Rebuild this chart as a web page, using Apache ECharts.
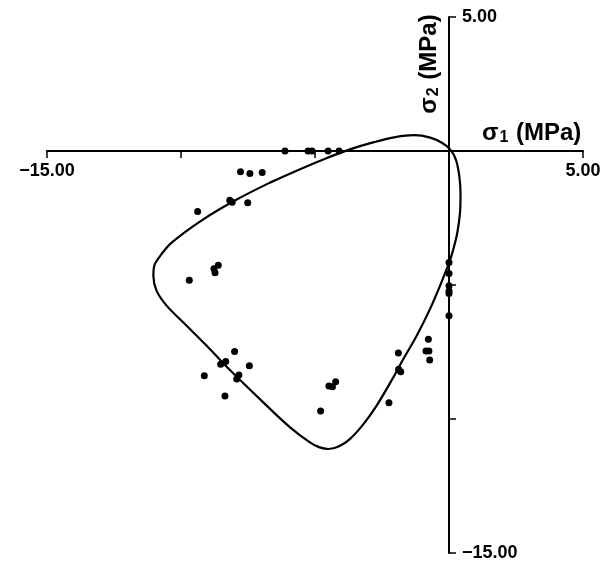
<!DOCTYPE html>
<html>
<head>
<meta charset="utf-8">
<title>Failure envelope</title>
<script src="https://cdn.jsdelivr.net/npm/echarts@6/dist/echarts.min.js"></script>
<style>
  html, body { margin: 0; padding: 0; background: #fff; }
  #chart { width: 606px; height: 563px; }
</style>
</head>
<body>
<div id="chart"></div>
<script>
// fitted envelope, sigma1 / sigma2 in MPa (closed loop)
const envelopeS1 = [
  -6.68, -5.60, -4.60, -3.70, -2.80, -2.00, -1.30, -0.70, -0.25, 0.04,
  0.25, 0.38, 0.43, 0.41, 0.31, 0.16, 0.01, -0.34, -0.71, -1.21,
  -1.71, -2.08, -2.70, -3.20, -3.69, -4.10, -4.50, -4.85, -5.19, -5.93,
  -6.93, -8.25, -9.04, -9.91, -10.53, -10.91, -11.03, -11.00, -10.78, -10.35,
  -9.17, -7.92, -6.68
]
const envelopeS2 = [
  -1.18, -0.70, -0.28, 0.06, 0.33, 0.52, 0.59, 0.50, 0.30, 0.06,
  -0.30, -0.90, -1.60, -2.30, -3.05, -3.67, -4.16, -5.04, -5.90, -6.90,
  -7.77, -8.45, -9.50, -10.20, -10.74, -11.02, -11.12, -11.05, -10.87, -10.31,
  -9.38, -8.10, -7.27, -6.40, -5.78, -5.22, -4.66, -4.29, -3.92, -3.42,
  -2.55, -1.81, -1.18
]

// test results
const testS1 = [
  -6.12, -5.26, -5.11, -4.51, -4.10,
  -6.97, -7.78, -7.43,
  -8.18, -8.09, -7.51, -9.38,
  -8.61, -8.77, -8.73, -9.69,
  -9.13, -8.36, -8.52, -8.33, -8.00, -7.45, -7.92, -7.84,
  -4.79, -4.48, -4.35, -4.23,
  -2.24, -1.89, -1.88, -1.80,
  -0.77, -0.86, -0.75, -0.72,
  0, 0, 0, 0, 0, 0
]
const testS2 = [
  0, 0, 0, 0, 0,
  -0.80, -0.77, -0.84,
  -1.84, -1.91, -1.93, -2.26,
  -4.26, -4.39, -4.54, -4.82,
  -8.39, -9.14, -7.96, -7.85, -7.48, -8.01, -8.51, -8.36,
  -9.70, -8.77, -8.80, -8.61,
  -9.39, -7.54, -8.14, -8.24,
  -7.02, -7.46, -7.46, -7.80,
  -4.16, -4.57, -5.03, -5.22, -5.32, -6.15
]

const axisMin = -15
const axisMax = 5
const tickStep = 5

const endLabel = (v) => (v === axisMin || v === axisMax) ? v.toFixed(2).replace('-', '\u2212') : ''

const chart = echarts.init(document.getElementById('chart'))

const font = '"Liberation Sans", Arial, sans-serif'
const nameRich = {
  s: { fontSize: 24, fontWeight: 'bold', fontFamily: font, color: '#000' },
  sub: { fontSize: 16, fontWeight: 'bold', fontFamily: font, color: '#000', padding: [10, 1, 0, 1] }
}

// grid: 47..583 horizontally, 17..553 vertically; axes cross at the origin
const gridLeft = 47
const gridTop = 17
const gridW = 536
const gridH = 536
const zeroX = gridW * (0 - axisMin) / (axisMax - axisMin)
const zeroY = gridH * (axisMax - 0) / (axisMax - axisMin)

chart.setOption({
  backgroundColor: '#fff',
  animation: false,
  grid: { left: gridLeft, top: gridTop, width: gridW, height: gridH, outerBoundsMode: 'none' },
  xAxis: {
    type: 'value',
    position: 'top',
    offset: -zeroY,
    min: axisMin,
    max: axisMax,
    interval: tickStep,
    axisLine: { onZero: false, lineStyle: { color: '#000', width: 2 } },
    axisTick: { show: true, inside: true, length: 7, lineStyle: { color: '#000', width: 1.5 } },
    axisLabel: {
      inside: true,
      margin: 11,
      formatter: endLabel,
      color: '#000',
      fontSize: 18,
      fontWeight: 'bold',
      fontFamily: font
    },
    splitLine: { show: false }
  },
  yAxis: {
    type: 'value',
    position: 'left',
    offset: -zeroX,
    min: axisMin,
    max: axisMax,
    interval: tickStep,
    axisLine: { onZero: false, lineStyle: { color: '#000', width: 2 } },
    axisTick: { show: true, inside: true, length: 7, lineStyle: { color: '#000', width: 1.5 } },
    axisLabel: {
      inside: true,
      margin: 13,
      formatter: endLabel,
      color: '#000',
      fontSize: 18,
      fontWeight: 'bold',
      fontFamily: font
    },
    splitLine: { show: false }
  },
  graphic: [
    {
      type: 'text',
      x: 482,
      y: 133,
      style: {
        text: '{s|\u03c3}{sub|1}{s| (MPa)}',
        rich: nameRich,
        verticalAlign: 'middle',
        align: 'left'
      }
    },
    {
      type: 'text',
      x: 429,
      y: 64,
      rotation: Math.PI / 2,
      style: {
        text: '{s|\u03c3}{sub|2}{s| (MPa)}',
        rich: nameRich,
        verticalAlign: 'middle',
        align: 'center'
      }
    }
  ],
  series: [
    {
      type: 'line',
      data: envelopeS1.map((v, i) => [v, envelopeS2[i]]),
      smooth: 0.35,
      showSymbol: false,
      lineStyle: { color: '#000', width: 2.2 },
      z: 3
    },
    {
      type: 'scatter',
      data: testS1.map((v, i) => [v, testS2[i]]),
      symbol: 'circle',
      symbolSize: 7,
      itemStyle: { color: '#000', opacity: 1 },
      z: 4
    }
  ]
})
</script>
</body>
</html>
